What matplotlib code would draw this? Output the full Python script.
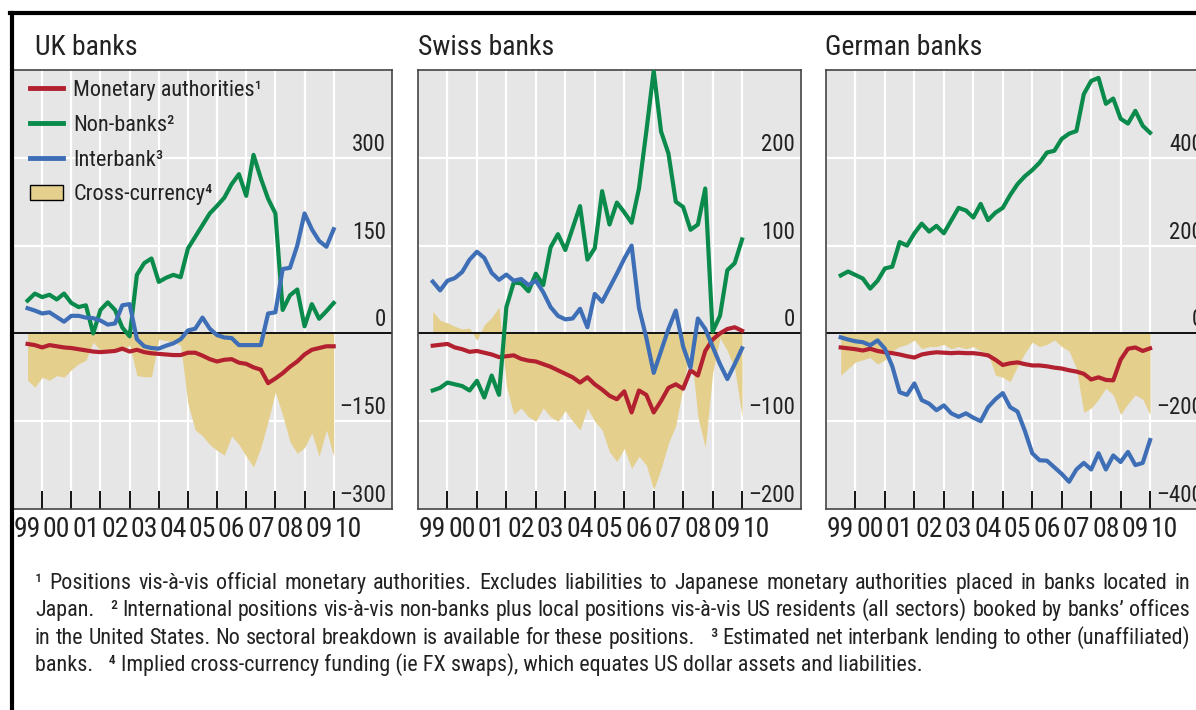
import re
import matplotlib
matplotlib.use('Agg')
import matplotlib.pyplot as plt
import matplotlib.transforms as mtransforms
from matplotlib import font_manager
from matplotlib.lines import Line2D
from matplotlib.patches import Patch
import numpy as np

# quarterly observations, 1999 Q2 .. 2009 Q4
dates = 1999.5 + 0.25 * np.arange(43)
year_ticks = list(range(2000, 2011))
year_labels = ['99', '00', '01', '02', '03', '04', '05', '06', '07', '08', '09', '10']

uk_monetary = [-18, -20, -24, -20, -22, -24, -25, -27, -29, -31, -32, -31, -30, -26, -31,
               -28, -32, -34, -35, -36, -37, -37, -33, -33, -38, -44, -48, -45, -44, -50,
               -52, -58, -62, -85, -77, -68, -57, -48, -36, -28, -25, -22, -22]
uk_nonbanks = [56, 68, 62, 66, 58, 68, 52, 45, 48, 0, 40, 53, 40, 10, -5,
               100, 120, 128, 88, 95, 100, 96, 145, 165, 185, 205, 218, 232, 255, 272,
               235, 305, 265, 230, 205, 40, 65, 75, 12, 50, 25, 38, 52]
uk_interbank = [43, 39, 34, 36, 28, 20, 30, 30, 27, 26, 22, 15, 17, 48, 50,
                -10, -22, -25, -26, -21, -17, -10, 5, 8, 27, 8, -3, -7, -8, -20,
                -20, -20, -20, 34, 36, 110, 112, 150, 205, 178, 158, 148, 178]
uk_cross = [-80, -92, -75, -80, -72, -75, -62, -52, -46, -15, -30, -32, -28, -30, -20,
            -72, -74, -74, -10, -12, -15, -20, -120, -165, -175, -190, -200, -208, -175, -190,
            -210, -228, -195, -150, -100, -140, -185, -205, -195, -170, -210, -165, -210]

sw_monetary = [-14, -13, -12, -16, -18, -21, -20, -22, -24, -27, -26, -25, -29, -31, -32,
               -35, -38, -42, -46, -50, -56, -50, -58, -64, -71, -75, -66, -90, -65, -70,
               -90, -77, -62, -58, -63, -42, -48, -20, -7, 0, 5, 7, 3]
sw_nonbanks = [-65, -62, -56, -58, -60, -65, -54, -73, -48, -70, 30, 58, 57, 48, 68,
               55, 98, 113, 95, 120, 145, 84, 97, 162, 124, 149, 138, 126, 165, 230,
               299, 230, 205, 150, 144, 118, 124, 165, 2, 20, 72, 80, 107]
sw_interbank = [59, 49, 60, 63, 70, 84, 93, 86, 69, 61, 67, 60, 62, 55, 60,
                47, 30, 20, 16, 17, 28, 7, 45, 36, 52, 68, 85, 100, 29, -5,
                -45, -20, 5, 26, -15, -39, 17, 5, -15, -35, -52, -35, -17]
sw_cross = [25, 15, 12, 8, 5, 6, -8, 10, 18, 30, -60, -92, -85, -95, -100,
            -85, -95, -100, -88, -100, -110, -85, -100, -110, -135, -146, -131, -154, -140, -150,
            -178, -154, -125, -105, -60, -15, -95, -130, -45, -5, -20, -40, -95]

de_monetary = [-32, -34, -36, -39, -35, -40, -43, -45, -48, -52, -55, -48, -45, -43, -44,
               -45, -44, -45, -45, -47, -50, -60, -72, -68, -66, -70, -73, -73, -75, -78,
               -80, -84, -87, -92, -105, -100, -106, -107, -60, -35, -32, -40, -34]
de_nonbanks = [132, 141, 133, 125, 102, 120, 148, 152, 208, 200, 228, 250, 232, 245, 228,
               257, 286, 280, 264, 295, 258, 275, 286, 315, 340, 358, 372, 389, 412, 416,
               443, 455, 461, 545, 575, 582, 523, 535, 489, 478, 507, 473, 457]
de_interbank = [-9, -14, -18, -20, -27, -16, -35, -75, -134, -140, -114, -152, -160, -175, -164,
                -182, -190, -182, -192, -200, -168, -150, -136, -168, -178, -222, -273, -289, -290, -305,
                -320, -338, -310, -295, -310, -273, -310, -278, -293, -270, -300, -295, -243]
de_cross = [-95, -80, -65, -60, -55, -70, -60, -40, -30, -25, -15, -35, -30, -30, -25,
            -35, -30, -35, -30, -40, -45, -95, -100, -110, -75, -45, -20, -30, -25, -15,
            -30, -40, -80, -180, -170, -150, -125, -140, -185, -160, -140, -150, -185]

legend_labels = ['Monetary authorities\u00b9', 'Non-banks\u00b2', 'Interbank\u00b3', 'Cross-currency\u2074']

footnote_lines = [
    "\u00b9 Positions vis-\u00e0-vis official monetary authorities. Excludes liabilities to Japanese monetary authorities placed in banks located in",
    "Japan.   \u00b2 International positions vis-\u00e0-vis non-banks plus local positions vis-\u00e0-vis US residents (all sectors) booked by banks\u2019 offices",
    "in the United States. No sectoral breakdown is available for these positions.   \u00b3 Estimated net interbank lending to other (unaffiliated)",
    "banks.   \u2074 Implied cross-currency funding (ie FX swaps), which equates US dollar assets and liabilities.",
]

RED = '#b3202f'
GREEN = '#0a8a4b'
BLUE = '#3e6fb6'
TAN = '#e5cf8d'
BG = '#e6e6e6'
TXT = '#222222'

# the original uses a narrow sans; take a condensed face if one is installed
fonts = font_manager.fontManager.ttflist
names = {f.name for f in fonts}
stretch = 'normal'
main_font = 'Liberation Sans'
for n in ['Liberation Sans Narrow', 'Arial Narrow', 'Roboto Condensed', 'Open Sans Condensed',
          'Noto Sans Condensed', 'DejaVu Sans Condensed']:
    if n in names:
        main_font = n
        break
else:
    for fam in ['Roboto', 'DejaVu Sans', 'Noto Sans', 'Open Sans']:
        if any(f.name == fam and f.stretch in ('condensed', 'semi-condensed') for f in fonts):
            main_font, stretch = fam, 'condensed'
            break
plt.rcParams['font.family'] = [main_font, 'DejaVu Sans']
plt.rcParams['font.stretch'] = stretch
plt.rcParams['text.color'] = TXT
plt.rcParams['xtick.labelcolor'] = TXT
narrow = main_font != 'Liberation Sans'
sz = 1.0 if narrow else 0.8

W, H = 1196, 710
fig = plt.figure(figsize=(W / 100, H / 100), dpi=100)


def add_axes_px(left, right, top, bottom):
    return fig.add_axes([left / W, 1 - bottom / H, (right - left) / W, (bottom - top) / H])


panels = [
    ('UK banks', 35, (13, 392), (-300, 450), [300, 150, 0, -150, -300],
     uk_monetary, uk_nonbanks, uk_interbank, uk_cross),
    ('Swiss banks', 418, (418, 801), (-200, 300), [200, 100, 0, -100, -200],
     sw_monetary, sw_nonbanks, sw_interbank, sw_cross),
    ('German banks', 825, (826, 1209), (-400, 600), [400, 200, 0, -200, -400],
     de_monetary, de_nonbanks, de_interbank, de_cross),
]

axes = []
for title, tx, (l, r), ylim, yt, mon, nonb, inter, cross in panels:
    ax = add_axes_px(l, r, 70, 509)
    axes.append(ax)
    ax.set_facecolor(BG)
    ax.set_xlim(1999, 2012)
    ax.set_ylim(*ylim)
    for yr in year_ticks:
        ax.axvline(yr, color='white', lw=1.6, zorder=0.5)
    for v in yt:
        if v != 0 and v != ylim[0]:
            ax.axhline(v, color='white', lw=1.6, zorder=0.5)
    ax.fill_between(dates, 0, cross, color=TAN, lw=0, zorder=1)
    ax.axhline(0, color='black', lw=1.3, zorder=2)
    ax.plot(dates, mon, color=RED, lw=3, zorder=3, solid_joinstyle='round')
    ax.plot(dates, nonb, color=GREEN, lw=3, zorder=3, solid_joinstyle='round')
    ax.plot(dates, inter, color=BLUE, lw=3, zorder=3, solid_joinstyle='round')

    ax.set_xticks(year_ticks)
    ax.tick_params(axis='x', which='major', direction='in', length=13, width=1.3,
                   color='black', labelbottom=False)
    ax.set_xticks(np.arange(1999.5, 2011), minor=True)
    ax.set_xticklabels(year_labels, minor=True)
    ax.tick_params(axis='x', which='minor', length=0, pad=5, labelsize=20 * sz)
    ax.set_yticks([])
    for s in ax.spines.values():
        s.set_color('#444444')
        s.set_linewidth(1.2)

    trans = mtransforms.offset_copy(ax.get_yaxis_transform(), fig=fig, x=-6, y=7, units='dots')
    for v in yt:
        lab = str(v).replace('-', '\u2013')
        ax.text(1, v, lab, transform=trans, ha='right', va='baseline', fontsize=16.5 * sz,
                color=TXT, zorder=4)

    fig.text(tx / W, 1 - 55 / H, title, fontsize=20 * sz, ha='left', va='baseline', color=TXT)

handles = [Line2D([], [], color=RED, lw=3.5),
           Line2D([], [], color=GREEN, lw=3.5),
           Line2D([], [], color=BLUE, lw=3.5),
           Patch(facecolor=TAN, edgecolor='black', lw=1)]
axes[0].legend(handles, legend_labels, loc='upper left', bbox_to_anchor=(0.045, 0.977),
               frameon=False, fontsize=16 * sz, handlelength=1.5 / sz, handletextpad=0.45,
               labelspacing=0.62 / sz, borderaxespad=0, borderpad=0)

# frame round the figure
fig.add_artist(Line2D([10 / W, 1], [1 - 13 / H, 1 - 13 / H], color='black', lw=3,
                      transform=fig.transFigure))
fig.add_artist(Line2D([11.5 / W, 11.5 / W], [0, 1 - 13 / H], color='black', lw=3,
                      transform=fig.transFigure))

# footnotes: fit font size on the last line, justify the first three
renderer = fig.canvas.get_renderer()
probe = fig.text(0, 0, footnote_lines[3], fontsize=10)
fs = 10 * (918 - 35) / probe.get_window_extent(renderer).width
probe.remove()

baselines = [589, 616, 644, 671]
for k, line in enumerate(footnote_lines):
    y = 1 - baselines[k] / H
    if k == 3:
        fig.text(35 / W, y, line, fontsize=fs, va='baseline', color=TXT)
        continue
    parts = re.split(r'( +)', line)
    words = parts[0::2]
    gaps = [len(g) for g in parts[1::2]]
    arts = [fig.text(0, y, w, fontsize=fs, va='baseline', color=TXT) for w in words]
    widths = [a.get_window_extent(renderer).width for a in arts]
    unit = (1190 - 35 - sum(widths)) / sum(gaps)
    x = 35
    for a, w, g in zip(arts, widths, gaps + [0]):
        a.set_x(x / W)
        x += w + g * unit

fig.savefig('out.png', dpi=100)
